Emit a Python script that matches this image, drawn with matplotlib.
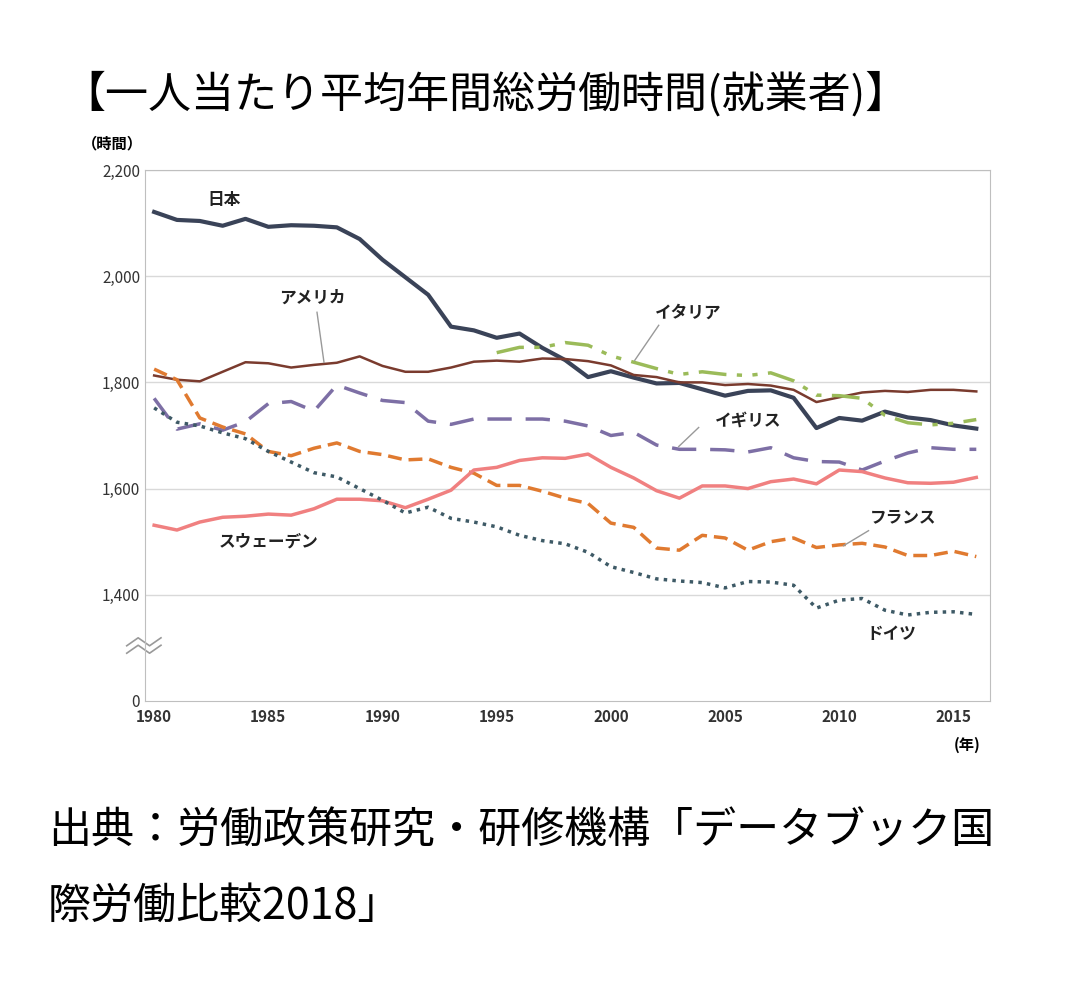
import matplotlib
matplotlib.use("Agg")
import matplotlib.pyplot as plt
import numpy as np

plt.rcParams['font.family'] = ['Noto Sans CJK JP', 'DejaVu Sans']

years = list(range(1980, 2017))
japan = [2121,2106,2104,2095,2108,2093,2096,2095,2092,2070,2031,1998,1965,1905,1898,1884,1892,1865,1842,1810,1821,1809,1798,1799,1787,1775,1784,1785,1771,1714,1733,1728,1745,1734,1729,1719,1713]
usa = [1813,1805,1802,1820,1838,1836,1828,1833,1837,1849,1831,1820,1820,1828,1839,1841,1839,1845,1844,1840,1832,1814,1810,1800,1800,1795,1797,1794,1786,1763,1772,1781,1784,1782,1786,1786,1783]
italy_years = list(range(1995, 2017))
italy = [1856,1866,1866,1875,1870,1850,1838,1826,1815,1820,1815,1813,1818,1803,1776,1775,1770,1738,1724,1720,1723,1730]
uk = [1770,1712,1722,1710,1726,1760,1764,1746,1795,1780,1766,1762,1727,1721,1731,1731,1731,1731,1727,1718,1700,1706,1682,1674,1674,1673,1669,1677,1658,1651,1650,1635,1652,1667,1677,1674,1674]
france = [1825,1805,1733,1716,1703,1670,1662,1676,1686,1670,1664,1654,1656,1640,1629,1606,1606,1595,1582,1572,1535,1527,1488,1484,1512,1507,1484,1500,1507,1489,1494,1497,1490,1474,1474,1482,1472]
sweden = [1531,1522,1537,1546,1548,1552,1550,1562,1580,1580,1577,1564,1580,1597,1635,1640,1653,1658,1657,1665,1640,1620,1596,1582,1605,1605,1600,1613,1618,1609,1635,1632,1620,1611,1610,1612,1621]
germany = [1752,1725,1718,1705,1694,1670,1650,1630,1622,1600,1578,1554,1565,1544,1537,1528,1512,1502,1496,1480,1453,1442,1430,1426,1423,1413,1425,1424,1418,1375,1390,1393,1371,1362,1367,1368,1363]

yticks = [1200, 1400, 1600, 1800, 2000, 2200]
ytick_labels = ['0', '1,400', '1,600', '1,800', '2,000', '2,200']
xticks = [1980, 1985, 1990, 1995, 2000, 2005, 2010, 2015]

fig = plt.figure(figsize=(10.8, 9.86), dpi=100)
ax = fig.add_axes([145/1080, 1-701/986, 845/1080, 531/986])
ax.set_xlim(1979.6, 2016.6)
ax.set_ylim(1200, 2200)

def P(px, py):
    return (1980 + (px - 155) / 22.857, 2200 - (py - 170) * 200 / 106)

for v in yticks[1:]:
    ax.axhline(v, color='#d9d9d9', lw=1, zorder=0)

ax.plot(years, japan, color='#3a4358', lw=3)
ax.plot(years, usa, color='#7a3b2e', lw=1.8)
ax.plot(italy_years, italy, color='#9bbb59', lw=2.5, dashes=[8, 3, 1.5, 3, 1.5, 3])
ax.plot(years, uk, color='#7d6fa5', lw=2.5, dashes=[7, 4])
ax.plot(years, france, color='#e07a30', lw=2.5, dashes=[4, 2])
ax.plot(years, sweden, color='#f08080', lw=2.5)
ax.plot(years, germany, color='#3e5a66', lw=2.5, dashes=[1, 1.5])

ax.set_yticks(yticks)
ax.set_yticklabels(ytick_labels, fontsize=11)
ax.set_xticks(xticks)
ax.set_xticklabels([str(x) for x in xticks], fontsize=11, fontweight='bold')
for s in ax.spines.values():
    s.set_color('#bfbfbf')
ax.tick_params(length=0, colors='#333333')
ax.tick_params(axis='x', pad=6)

for dy in (0, 14):
    ax.plot([1978.8, 1979.3, 1979.8, 1980.3], [1290+dy, 1305+dy, 1290+dy, 1305+dy],
            color='#999999', lw=1.2, clip_on=False)

kw = dict(fontsize=12, fontweight='bold', color='#222222', ha='center', va='center')
labels = [('日本', 225, 200), ('アメリカ', 313, 297), ('イタリア', 690, 312),
          ('イギリス', 750, 420), ('フランス', 905, 517), ('スウェーデン', 270, 541),
          ('ドイツ', 893, 633)]
for t, px, py in labels:
    ax.text(*P(px, py), t, **kw)

leaders = [((318, 312), (325, 362)), ((660, 325), (636, 360)),
           ((700, 427), (680, 446)), ((870, 530), (845, 545))]
for a, b in leaders:
    xa, ya = P(*a); xb, yb = P(*b)
    ax.plot([xa, xb], [ya, yb], color='#999999', lw=1)

fig.text(82/1080, 1-143/986, '（時間）', fontsize=11, fontweight='bold', va='center', ha='left')
fig.text(967/1080, 1-745/986, '(年)', fontsize=11, fontweight='bold', va='center', ha='center')
fig.text(62/1080, 1-95/986, '【一人当たり平均年間総労働時間(就業者)】', fontsize=31, va='center', ha='left')
fig.text(48/1080, 1-832/986, '出典：労働政策研究・研修機構「データブック国', fontsize=31, va='center', ha='left')
fig.text(48/1080, 1-907/986, '際労働比較2018」', fontsize=31, va='center', ha='left')

fig.savefig('out.png', dpi=100, facecolor='white')
